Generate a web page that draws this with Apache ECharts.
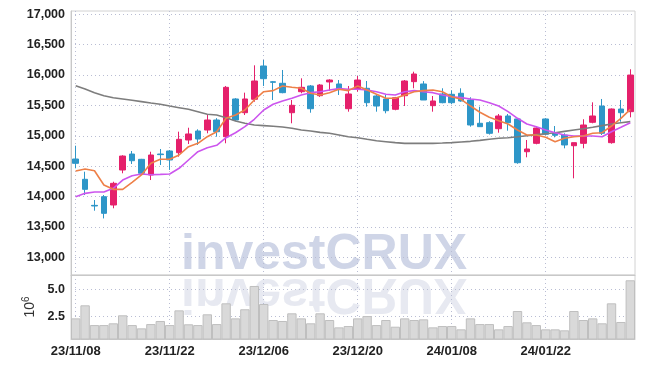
<!DOCTYPE html>
<html><head><meta charset="utf-8">
<script src="https://cdn.jsdelivr.net/npm/echarts@6/dist/echarts.min.js"></script>
<style>html,body{margin:0;padding:0;background:#fff}#c{width:645px;height:368px}</style>
</head><body><div id="c"></div>
<script>
const dates = ['23/11/08','23/11/09','23/11/10','23/11/13','23/11/14','23/11/15','23/11/16','23/11/17','23/11/20','23/11/21',
'23/11/22','23/11/23','23/11/24','23/11/27','23/11/28','23/11/29','23/11/30','23/12/01','23/12/04','23/12/05',
'23/12/06','23/12/07','23/12/08','23/12/11','23/12/12','23/12/13','23/12/14','23/12/15','23/12/18','23/12/19',
'23/12/20','23/12/21','23/12/22','23/12/26','23/12/27','23/12/28','24/01/02','24/01/03','24/01/04','24/01/05',
'24/01/08','24/01/09','24/01/10','24/01/11','24/01/12','24/01/15','24/01/16','24/01/17','24/01/18','24/01/19',
'24/01/22','24/01/23','24/01/24','24/01/25','24/01/26','24/01/29','24/01/30','24/01/31','24/02/01','24/02/02'];
const opens  = [14618,14284,13855,13998,13861,14437,14700,14613,14355,14700,14750,14722,14931,15079,15095,15260,14985,15606,15380,15601,16149,15890,15864,15380,15726,15820,15660,15886,15853,15446,15776,15782,15655,15606,15436,15660,15891,15853,15496,15688,15683,15700,15589,15206,15216,15117,15326,15277,14738,14876,15277,15041,15013,14837,14876,15222,15490,14887,15441,15397];
const closes = [14547,14119,13845,13724,14218,14667,14590,14383,14684,14690,14602,14942,15030,14947,15260,15067,15798,15260,15606,15902,15940,15880,15710,15502,15798,15446,15836,15918,15765,15688,15918,15545,15490,15413,15627,15902,16017,15589,15573,15545,15545,15573,15178,15150,15041,15326,15216,14557,14783,15128,15025,15008,14849,14887,15178,15326,15041,15441,15380,16000];
const lows   = [14465,14025,13767,13640,13807,14383,14536,14360,14272,14519,14438,14656,14865,14849,15041,14985,14877,15240,15342,15561,15820,15589,15700,15206,15700,15380,15640,15743,15672,15397,15726,15479,15397,15370,15420,15490,15782,15589,15397,15535,15520,15561,15150,15150,15020,15051,15084,14540,14646,14860,15010,14975,14794,14300,14794,15206,15013,14870,15232,15304];
const highs  = [14837,14409,13943,14025,14244,14680,14750,14620,14738,14783,14766,15068,15133,15107,15342,15290,15820,15620,15710,16160,16248,15902,16083,15589,15946,15836,15850,15930,15918,15820,15984,15902,15672,15672,15640,15918,16055,15900,15655,15782,15750,15782,15634,15479,15240,15359,15359,15290,14931,15140,15290,15161,15041,14887,15272,15551,15606,15450,15589,16095];
const ma5   = [14420,14453,14425,14190,14119,14119,14234,14355,14547,14613,14613,14684,14821,14876,14985,15067,15288,15342,15425,15589,15726,15743,15820,15798,15782,15700,15672,15710,15765,15743,15820,15754,15683,15617,15617,15672,15726,15743,15754,15726,15644,15601,15490,15387,15304,15249,15194,15095,15013,15013,14975,14903,14959,14985,14997,15041,15051,15161,15288,15436];
const ma20  = [13998,14053,14075,14075,14136,14272,14343,14371,14360,14365,14371,14465,14602,14738,14804,14843,14969,15051,15150,15272,15425,15519,15573,15617,15672,15710,15726,15754,15776,15765,15765,15754,15726,15683,15672,15726,15743,15726,15710,15672,15644,15628,15606,15589,15545,15490,15397,15288,15194,15150,15095,15051,15013,14997,14997,14997,14985,15067,15140,15216];
const ma120 = [15825,15770,15710,15660,15627,15606,15584,15562,15540,15519,15490,15463,15436,15397,15354,15342,15298,15244,15206,15178,15167,15156,15145,15123,15095,15079,15057,15041,15013,14985,14969,14942,14919,14903,14887,14876,14876,14876,14876,14881,14887,14898,14909,14925,14942,14959,14969,14985,15002,15019,15035,15051,15073,15095,15117,15140,15167,15194,15216,15233];
const volumes = [2.35,3.54,1.74,1.74,1.90,2.63,1.74,1.44,1.83,2.11,1.74,3.08,1.81,1.74,2.72,1.83,3.72,2.35,3.18,5.30,3.66,2.20,2.11,2.81,2.35,1.90,2.81,2.20,1.53,1.65,2.35,2.56,1.74,2.20,1.59,2.35,2.20,2.26,1.53,1.65,1.65,1.35,2.35,1.83,1.83,1.35,1.65,3.02,1.99,1.74,1.35,1.35,1.26,3.02,2.20,2.35,1.90,3.72,2.02,5.82];
const priceTicks = [13000,13500,14000,14500,15000,15500,16000,16500,17000];
const volumeTicks = [2.5,5];

const FONT = '"Liberation Sans",Arial,sans-serif';
const UP = '#e5206b', DOWN = '#2e96c8';
const candleData = dates.map((d,i)=>[opens[i],closes[i],lows[i],highs[i]]);
const dotted = {lineStyle:{type:[1,3],color:'#b9bdd3',width:1}};
const lblStyle = {fontFamily:FONT,fontSize:13,fontWeight:'bold',color:'#222'};
const ylblStyle = {fontFamily:FONT,fontSize:12.5,fontWeight:'bold',color:'#222',padding:[4,0,0,0]};

const chart = echarts.init(document.getElementById('c'),null,{renderer:'canvas'});
chart.setOption({
  animation:false,
  backgroundColor:'#fff',
  graphic:[
    {type:'text',z:-10,left:181,top:230,style:{text:'investCRUX',font:'bold 50px "Liberation Sans",Arial,sans-serif',fill:'#cfd5e7'}},
    {type:'text',z:-10,left:181,top:268,scaleY:-1,originY:24,style:{text:'investCRUX',font:'bold 50px "Liberation Sans",Arial,sans-serif',fill:'#e7e9f1'}}
  ],
  grid:[
    {left:71,right:10,top:11,height:264,show:true,borderColor:'#d2d2d2',borderWidth:1},
    {left:71,right:10,top:275,height:64,show:true,borderColor:'#d2d2d2',borderWidth:1}
  ],
  xAxis:[
    {type:'category',gridIndex:0,data:dates,boundaryGap:true,
     axisLine:{show:true,lineStyle:{color:'#c8c8c8'}},axisTick:{show:false},axisLabel:{show:false},
     splitLine:Object.assign({show:true,interval:9,alignWithLabel:true},dotted)},
    {type:'category',gridIndex:1,data:dates,boundaryGap:true,
     axisLine:{show:true,lineStyle:{color:'#c8c8c8'}},axisTick:{show:false},
     axisLabel:Object.assign({interval:9,margin:6},lblStyle),
     splitLine:Object.assign({show:true,interval:9,alignWithLabel:true},dotted)}
  ],
  yAxis:[
    {type:'value',gridIndex:0,min:12709,max:17054,
     axisLine:{show:true,lineStyle:{color:'#c8c8c8'}},
     axisTick:{show:false,customValues:priceTicks},
     axisLabel:Object.assign({customValues:priceTicks,margin:6,formatter:v=>v.toLocaleString('en-US')},ylblStyle),
     splitLine:Object.assign({show:true},dotted)},
    {type:'value',gridIndex:1,min:0.47,max:6.3,
     name:'10{s|6}',nameLocation:'middle',nameRotate:90,nameGap:26,
     nameTextStyle:{fontFamily:FONT,fontSize:14,color:'#333',rich:{s:{fontSize:10,verticalAlign:'top',color:'#333',fontFamily:FONT,padding:[0,0,6,0]}}},
     axisLine:{show:true,lineStyle:{color:'#c8c8c8'}},
     axisTick:{show:false,customValues:volumeTicks},
     axisLabel:Object.assign({customValues:volumeTicks,margin:6,formatter:v=>v.toFixed(1)},ylblStyle),
     splitLine:Object.assign({show:true},dotted)}
  ],
  series:[
    {type:'candlestick',xAxisIndex:0,yAxisIndex:0,data:candleData,barWidth:6,
     itemStyle:{color:UP,color0:DOWN,borderColor:UP,borderColor0:DOWN,borderWidth:1}},
    {type:'line',xAxisIndex:0,yAxisIndex:0,data:ma120,showSymbol:false,lineStyle:{color:'#7d7d7d',width:1.6}},
    {type:'line',xAxisIndex:0,yAxisIndex:0,data:ma20,showSymbol:false,lineStyle:{color:'#cc55ee',width:1.6}},
    {type:'line',xAxisIndex:0,yAxisIndex:0,data:ma5,showSymbol:false,lineStyle:{color:'#ee8048',width:1.6}},
    {type:'bar',xAxisIndex:1,yAxisIndex:1,data:volumes,barCategoryGap:'0%',
     itemStyle:{color:'#d9d9d9',borderColor:'#bfbfbf',borderWidth:1}}
  ]
});
</script>
</body></html>
